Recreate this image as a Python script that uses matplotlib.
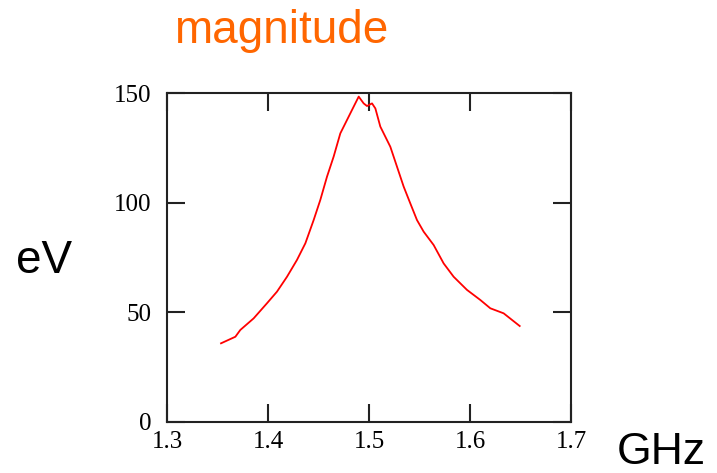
import numpy as np
import matplotlib.pyplot as plt

# resonance curve (GHz, eV)
freq = [1.3535, 1.3677, 1.3726, 1.3858, 1.3990, 1.4089, 1.4188, 1.4287,
        1.4370, 1.4452, 1.4518, 1.4584, 1.4650, 1.4716, 1.4782, 1.4848,
        1.4898, 1.4947, 1.4980, 1.5030, 1.5063, 1.5112, 1.5211, 1.5277,
        1.5343, 1.5409, 1.5475, 1.5541, 1.5640, 1.5739, 1.5838, 1.5970,
        1.6102, 1.6201, 1.6333, 1.6492]
mag = [35.8, 38.8, 41.9, 47.2, 54.1, 59.4, 66.2, 73.9,
       81.5, 92.1, 101.3, 111.9, 121.1, 131.7, 137.8, 143.9,
       148.5, 145.4, 144.2, 145.4, 143.1, 134.8, 125.6, 116.5,
       107.4, 99.7, 92.1, 86.8, 80.7, 72.3, 66.2, 60.2,
       55.6, 51.8, 49.5, 43.7]

xticks = [1.3, 1.4, 1.5, 1.6, 1.7]
yticks = [0, 50, 100, 150]

fig = plt.figure(figsize=(7.17, 4.73), dpi=100)
ax = fig.add_axes([0.2329, 0.1085, 0.5635, 0.6942])

ax.plot(freq, mag, color='red', lw=1.3)

ax.set_xlim(1.3, 1.7)
ax.set_ylim(0, 150)
ax.set_xticks(xticks)
ax.set_yticks(yticks)
ax.set_xticklabels(['1.3', '1.4', '1.5', '1.6', '1.7'])
ax.tick_params(direction='in', length=13, width=1.5, colors='#222222',
               top=True, right=True, labelsize=18)
ax.tick_params(axis='x', pad=7)
ax.tick_params(axis='y', pad=11)
for lab in ax.get_xticklabels() + ax.get_yticklabels():
    lab.set_family('Liberation Serif')
    lab.set_color('black')
for s in ax.spines.values():
    s.set_linewidth(1.5)
    s.set_color('#222222')

fig.text(0.392, 0.909, 'magnitude', color='#ff6600', fontsize=33,
         family='Liberation Sans', ha='center', va='baseline')
fig.text(0.022, 0.423, 'eV', fontsize=33, family='Liberation Sans',
         ha='left', va='baseline')
fig.text(0.86, 0.02, 'GHz', fontsize=32, family='Liberation Sans',
         ha='left', va='baseline')

fig.savefig('out.png', dpi=100)
